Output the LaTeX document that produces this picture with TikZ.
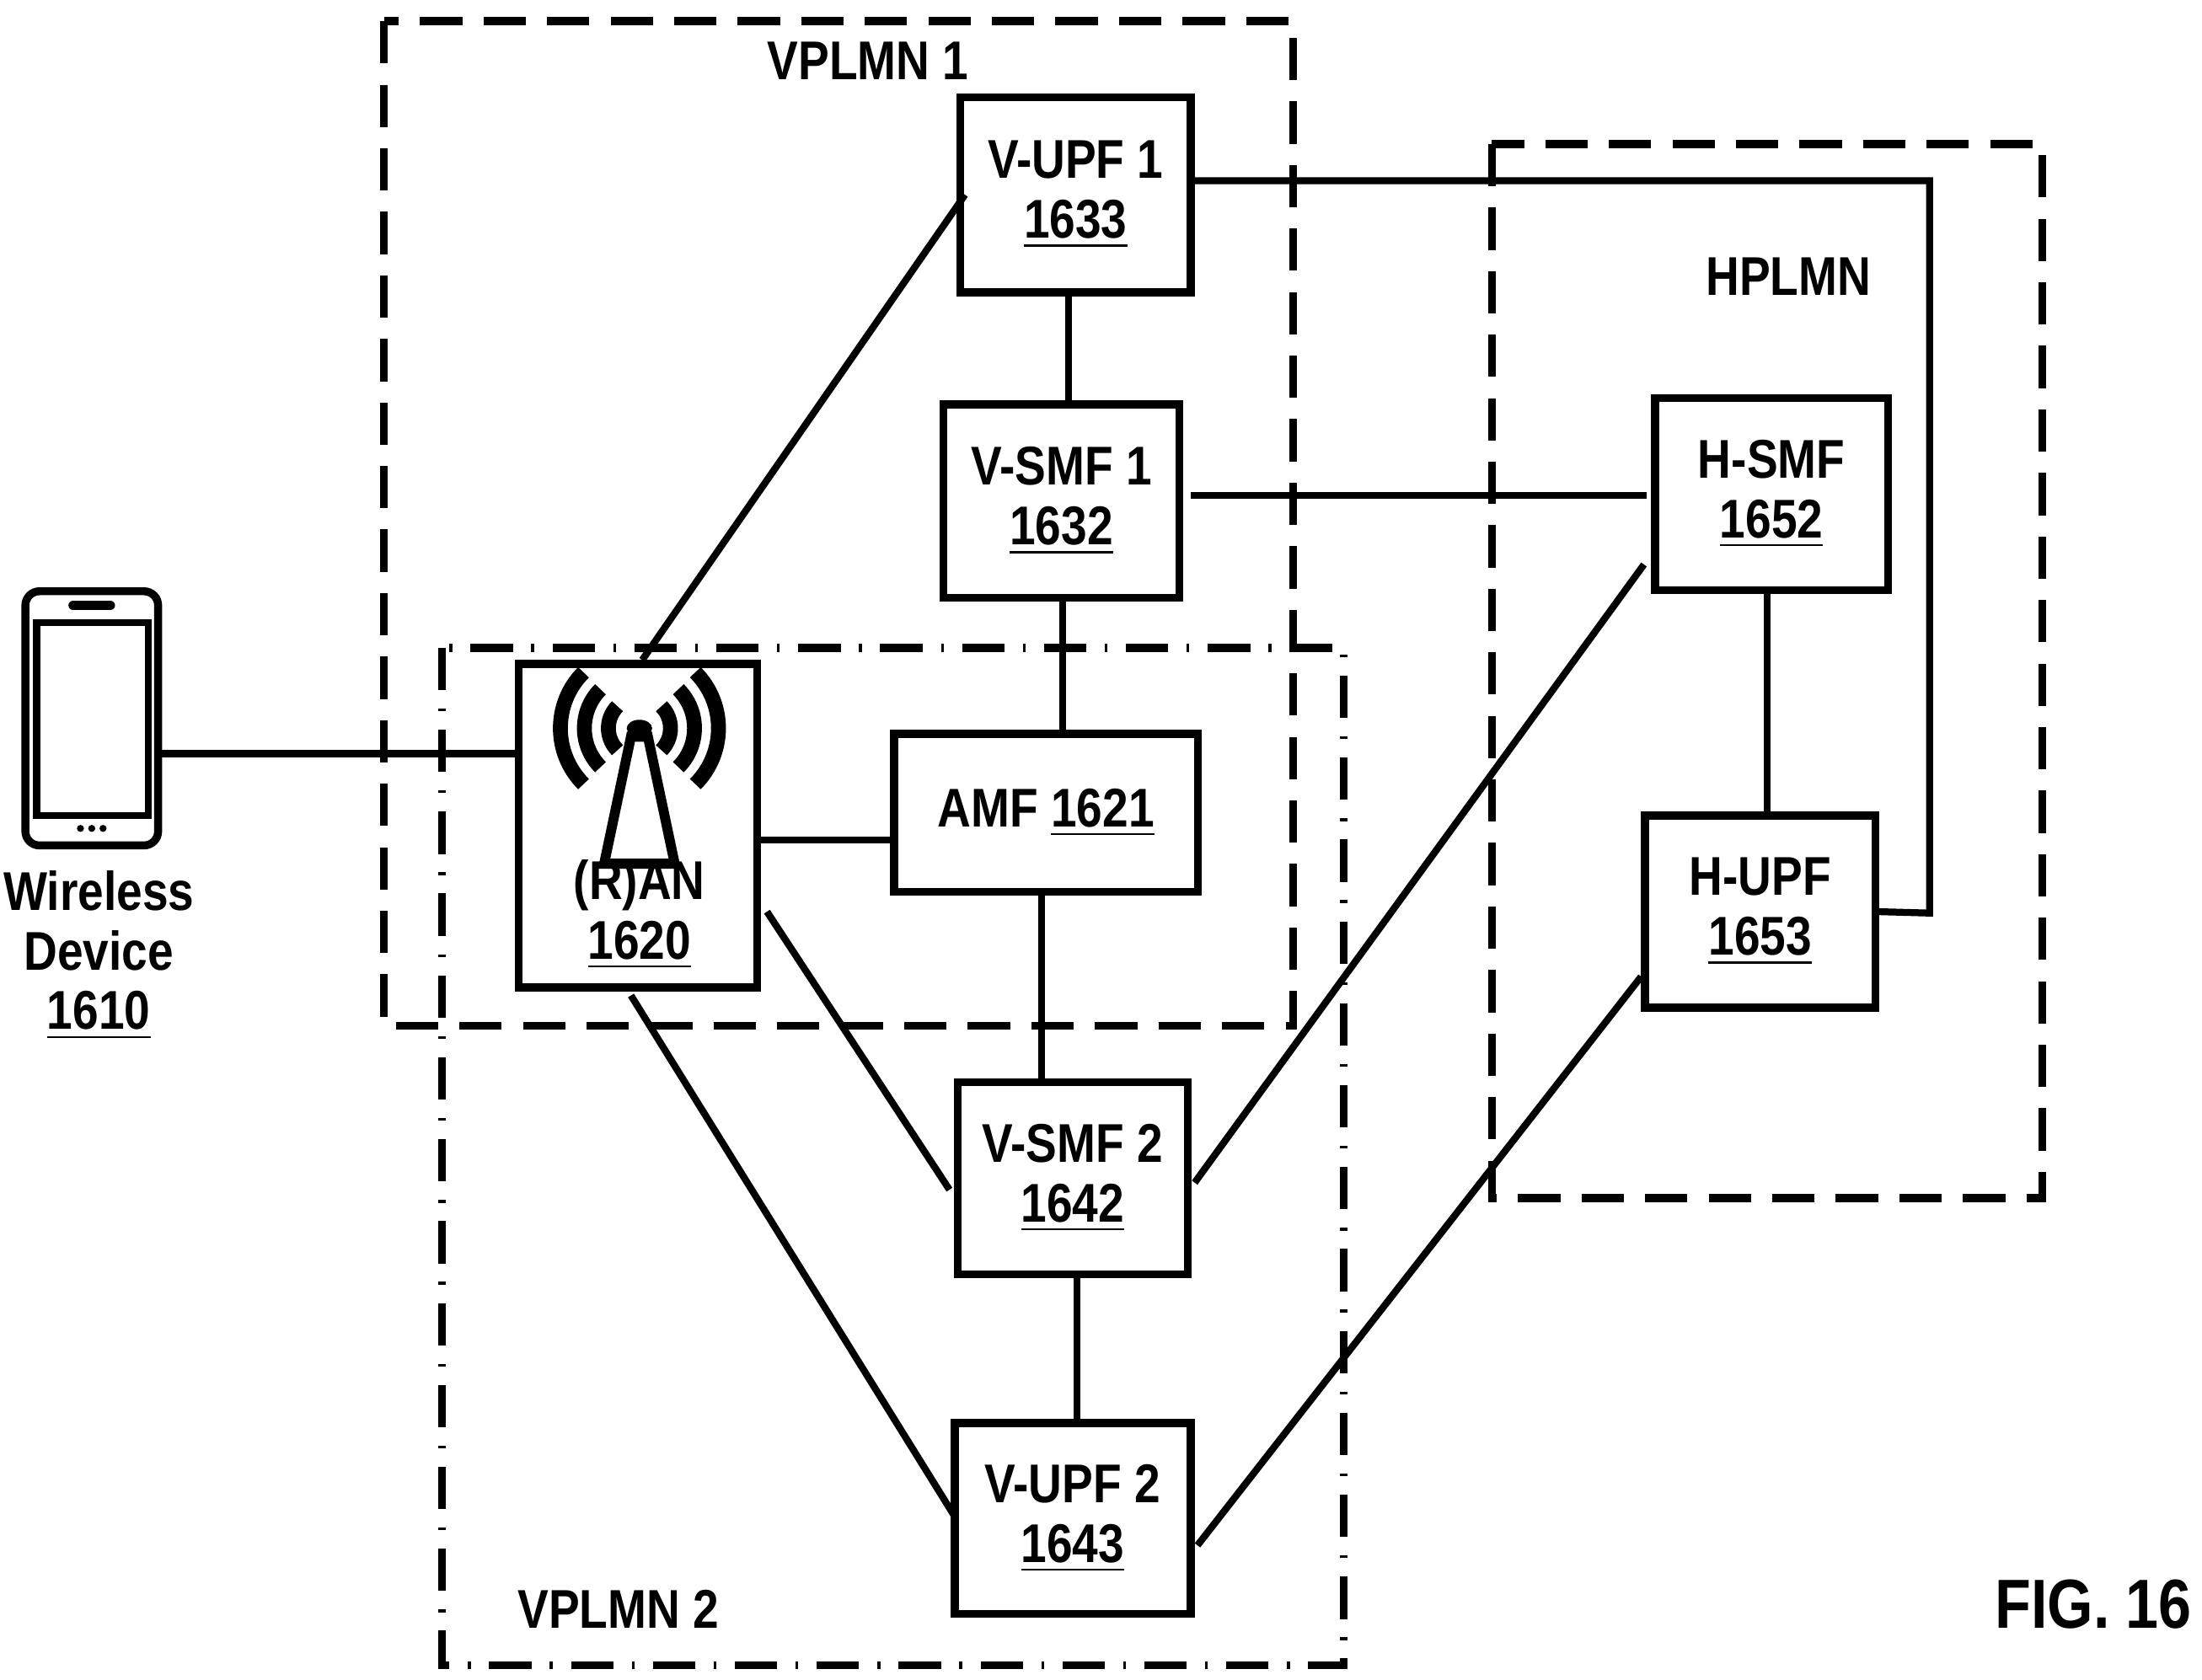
\documentclass[tikz,border=0pt]{standalone}
\usepackage{fontspec}
\setmainfont{Liberation Sans}[FakeStretch=0.85]
\usetikzlibrary{calc}
\begin{document}
\begin{tikzpicture}[x=0.01cm,y=-0.01cm,
  box/.style={draw,line width=1.6pt,align=center,inner sep=0pt,font=\bfseries\fontsize{11pt}{12pt}\selectfont},
  ln/.style={line width=1.4pt},
  txt/.style={font=\bfseries\fontsize{11pt}{12pt}\selectfont,align=center,inner sep=0pt},
  dsh/.style={line width=1.6pt,dash pattern=on 0.3cm off 0.15cm},
  dd/.style={line width=1.6pt,dash pattern=on 0.3cm off 0.13cm on 0.02cm off 0.13cm}]
\useasboundingbox (0,0) rectangle (1560,1190);
% regions
\draw[dsh] (272,15) rectangle (916,727);
\draw[dsh] (1057,102) rectangle (1447,849);
\draw[dd] (313,459) rectangle (952,1180);
\node[txt] (l1) at (615,43) {VPLMN 1};
\node[txt] (l2) at (1267,196) {HPLMN};
\node[txt] (l3) at (438,1140) {VPLMN 2};
\node[txt,font=\bfseries\fontsize{14pt}{14pt}\selectfont] (fig) at (1483,1137) {FIG. 16};
% boxes
\node[box,minimum width=1.63cm,minimum height=1.38cm] (vupf1) at (762,138) {V-UPF 1\\\underline{1633}};
\node[box,minimum width=1.67cm,minimum height=1.37cm] (vsmf1) at (752,355) {V-SMF 1\\\underline{1632}};
\node[box,minimum width=1.65cm,minimum height=1.36cm] (hsmf) at (1255,350) {H-SMF\\\underline{1652}};
\node[box,minimum width=1.69cm,minimum height=2.29cm] (ran) at (452,585) {};
\node[box,minimum width=2.15cm,minimum height=1.12cm] (amf) at (741,576) {AMF \underline{1621}};
\node[box,minimum width=1.63cm,minimum height=1.36cm] (hupf) at (1247,646) {H-UPF\\\underline{1653}};
\node[box,minimum width=1.63cm,minimum height=1.36cm] (vsmf2) at (760,835) {V-SMF 2\\\underline{1642}};
\node[box,minimum width=1.67cm,minimum height=1.35cm] (vupf2) at (760,1076) {V-UPF 2\\\underline{1643}};
\node[txt] (rant) at (453,648) {(R)AN\\\underline{1620}};
% antenna
\draw[line width=2pt] (428,612) -- (447,522) -- (459,522) -- (478,612) -- cycle;
\fill (453,516) ellipse (9 and 6);
\foreach \r in {22,39,56}{
  \draw[line width=3pt] ($(453,516)+(135:\r*0.01cm)$) arc[start angle=135,end angle=225,radius=\r*0.01cm];
  \draw[line width=3pt] ($(453,516)+(45:\r*0.01cm)$) arc[start angle=45,end angle=-45,radius=\r*0.01cm];
}
% phone
\node[draw,line width=1.6pt,rounded corners=0.1cm,minimum width=0.94cm,minimum height=1.80cm,inner sep=0pt] (phone) at (65,509) {};
\draw[line width=1.4pt] (26,441) rectangle (105,578);
\draw[line width=2pt,line cap=round] (52,429) -- (78,429);
\foreach \xx in {57,65,73} \fill (\xx,587) circle (2.5);
\node[txt] (wd) at (70,677) {Wireless\\Device\\\underline{1610}};
% connectors
\draw[ln] ($(phone.east)+(0,25)$) -- ($(ran.west)+(0,-51)$);
\draw[ln] ($(ran.north)+(3,0)$) -- ($(vupf1.west)+(6,0)$);
\draw[ln] ($(vupf1.south)+(-5,0)$) -- ($(vsmf1.north)+(5,0)$);
\draw[ln] ($(vupf1.east)+(0,-10)$) -- (1367,128) -- (1367,647) -- (hupf.east);
\draw[ln] ($(vsmf1.east)+(5,-4)$) -- ($(hsmf.west)+(-3,1)$);
\draw[ln] ($(vsmf1.south)+(1,0)$) -- ($(amf.north)+(12,0)$);
\draw[ln] ($(ran.east)+(0,10)$) -- ($(amf.west)+(0,19)$);
\draw[ln] ($(amf.south)+(-3,0)$) -- ($(vsmf2.north)+(-22,0)$);
\draw[ln] ($(ran.east)+(4,61)$) -- ($(vsmf2.west)+(-3,8)$);
\draw[ln] ($(ran.south)+(-5,3)$) -- ($(vupf2.west)+(3,-1)$);
\draw[ln] ($(hsmf.west)+(-5,50)$) -- ($(vsmf2.east)+(2,3)$);
\draw[ln] ($(hsmf.south)+(-3,0)$) -- ($(hupf.north)+(5,0)$);
\draw[ln] ($(vsmf2.south)+(3,0)$) -- ($(vupf2.north)+(3,0)$);
\draw[ln] ($(hupf.west)+(0,46)$) -- ($(vupf2.east)+(2,19)$);
\end{tikzpicture}
\end{document}
